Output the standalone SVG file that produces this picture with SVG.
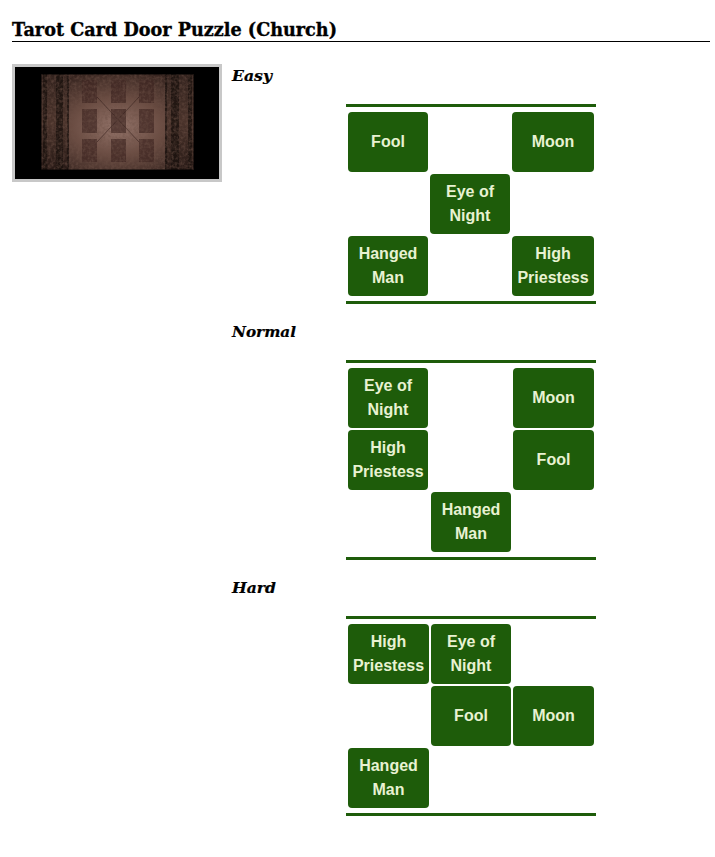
<svg xmlns="http://www.w3.org/2000/svg" width="715" height="857" viewBox="0 0 715 857">
<defs>
<style>
.title{font-family:"DejaVu Serif","Liberation Serif",serif;font-weight:bold;font-size:18px;fill:#000;stroke:#000;stroke-width:0.35}
.head{font-family:"DejaVu Serif","Liberation Serif",serif;font-weight:bold;font-style:italic;font-size:15px;fill:#000;stroke:#000;stroke-width:0.2}
.card rect{fill:#1e5c0a}
.card text{font-family:"Liberation Sans",Arial,sans-serif;font-weight:bold;font-size:16px;fill:#e8f2d2;text-anchor:middle}
.rule{fill:#1e5c0a}
</style>
<radialGradient id="doorG" cx="0.5" cy="0.55" r="0.6">
<stop offset="0" stop-color="#94746a"/>
<stop offset="0.5" stop-color="#6a4c42"/>
<stop offset="1" stop-color="#36241f"/>
</radialGradient>
<linearGradient id="sideG" x1="0" y1="0" x2="0" y2="1">
<stop offset="0" stop-color="#33231e"/>
<stop offset="0.5" stop-color="#4a332b"/>
<stop offset="1" stop-color="#281a16"/>
</linearGradient>
<filter id="grain" x="0" y="0" width="1" height="1">
<feTurbulence type="fractalNoise" baseFrequency="0.35" numOctaves="3" seed="4" result="n"/>
<feColorMatrix in="n" type="matrix" values="0 0 0 0 0.15  0 0 0 0 0.08  0 0 0 0 0.06  0 0 0 1.2 -0.45"/>
</filter>
</defs>
<rect width="715" height="857" fill="#fff"/>

<g id="title">
<text class="title" x="12" y="36" textLength="325" lengthAdjust="spacingAndGlyphs">Tarot Card Door Puzzle (Church)</text>
<rect x="12" y="41" width="698" height="1" fill="#000"/>
</g>

<g id="door-image">
<rect x="12" y="64" width="210" height="118" fill="#c8c8c8"/>
<rect x="15" y="67" width="204" height="112" fill="#000"/>
<rect x="41" y="74" width="153" height="96" fill="url(#doorG)"/>
<rect x="41" y="74" width="28" height="96" fill="url(#sideG)"/>
<rect x="165" y="74" width="29" height="96" fill="url(#sideG)"/>
<rect x="43" y="74" width="4" height="96" fill="#1a110e" opacity="0.8"/>
<rect x="56" y="74" width="7" height="96" fill="#1a110e" opacity="0.8"/>
<rect x="67" y="74" width="2" height="96" fill="#1a110e" opacity="0.7"/>
<rect x="165" y="74" width="2" height="96" fill="#1a110e" opacity="0.7"/>
<rect x="171" y="74" width="8" height="96" fill="#1a110e" opacity="0.8"/>
<rect x="188" y="74" width="4" height="96" fill="#1a110e" opacity="0.8"/>
<g fill="#3f2622" opacity="0.7">
<rect x="82" y="80" width="15" height="23"/>
<rect x="111" y="80" width="15" height="23"/>
<rect x="139" y="80" width="15" height="23"/>
<rect x="82" y="109" width="15" height="24"/>
<rect x="111" y="109" width="15" height="24"/>
<rect x="139" y="109" width="15" height="24"/>
<rect x="82" y="139" width="15" height="23"/>
<rect x="111" y="139" width="15" height="23"/>
<rect x="139" y="139" width="15" height="23"/>
</g>
<g stroke="#3a2420" stroke-width="1" opacity="0.7">
<line x1="97" y1="97" x2="139" y2="142"/>
<line x1="139" y1="97" x2="97" y2="142"/>
</g>
<rect x="41" y="74" width="153" height="96" filter="url(#grain)"/>
<rect x="41" y="74" width="153" height="96" fill="none" stroke="#000" stroke-width="1.5" opacity="0.6"/>
</g>

<g id="connectors"></g>

<g id="easy">
<text class="head" x="232" y="81" textLength="40" lengthAdjust="spacingAndGlyphs">Easy</text>
<rect class="rule" x="346" y="104" width="250" height="3"/>
<rect class="rule" x="346" y="301" width="250" height="3"/>
<g id="easy-fool" class="card"><rect x="348" y="112" width="80" height="60" rx="4"/><text x="388" y="147.3">Fool</text></g>
<g id="easy-moon" class="card"><rect x="512" y="112" width="82" height="60" rx="4"/><text x="553" y="147.3">Moon</text></g>
<g id="easy-eye" class="card"><rect x="430" y="174" width="80" height="60" rx="4"/><text x="470" y="197.3">Eye of</text><text x="470" y="221.3">Night</text></g>
<g id="easy-hanged" class="card"><rect x="348" y="236" width="80" height="60" rx="4"/><text x="388" y="259.3">Hanged</text><text x="388" y="283.3">Man</text></g>
<g id="easy-priestess" class="card"><rect x="512" y="236" width="82" height="60" rx="4"/><text x="553" y="259.3">High</text><text x="553" y="283.3">Priestess</text></g>
</g>

<g id="normal">
<text class="head" x="232" y="337" textLength="64" lengthAdjust="spacingAndGlyphs">Normal</text>
<rect class="rule" x="346" y="360" width="250" height="3"/>
<rect class="rule" x="346" y="557" width="250" height="3"/>
<g id="normal-eye" class="card"><rect x="348" y="368" width="80" height="60" rx="4"/><text x="388" y="391.3">Eye of</text><text x="388" y="415.3">Night</text></g>
<g id="normal-moon" class="card"><rect x="513" y="368" width="81" height="60" rx="4"/><text x="553.5" y="403.3">Moon</text></g>
<g id="normal-priestess" class="card"><rect x="348" y="430" width="80" height="60" rx="4"/><text x="388" y="453.3">High</text><text x="388" y="477.3">Priestess</text></g>
<g id="normal-fool" class="card"><rect x="513" y="430" width="81" height="60" rx="4"/><text x="553.5" y="465.3">Fool</text></g>
<g id="normal-hanged" class="card"><rect x="431" y="492" width="80" height="60" rx="4"/><text x="471" y="515.3">Hanged</text><text x="471" y="539.3">Man</text></g>
</g>

<g id="hard">
<text class="head" x="232" y="593" textLength="44" lengthAdjust="spacingAndGlyphs">Hard</text>
<rect class="rule" x="346" y="616" width="250" height="3"/>
<rect class="rule" x="346" y="813" width="250" height="3"/>
<g id="hard-priestess" class="card"><rect x="348" y="624" width="81" height="60" rx="4"/><text x="388.5" y="647.3">High</text><text x="388.5" y="671.3">Priestess</text></g>
<g id="hard-eye" class="card"><rect x="431" y="624" width="80" height="60" rx="4"/><text x="471" y="647.3">Eye of</text><text x="471" y="671.3">Night</text></g>
<g id="hard-fool" class="card"><rect x="431" y="686" width="80" height="60" rx="4"/><text x="471" y="721.3">Fool</text></g>
<g id="hard-moon" class="card"><rect x="513" y="686" width="81" height="60" rx="4"/><text x="553.5" y="721.3">Moon</text></g>
<g id="hard-hanged" class="card"><rect x="348" y="748" width="81" height="60" rx="4"/><text x="388.5" y="771.3">Hanged</text><text x="388.5" y="795.3">Man</text></g>
</g>
</svg>
